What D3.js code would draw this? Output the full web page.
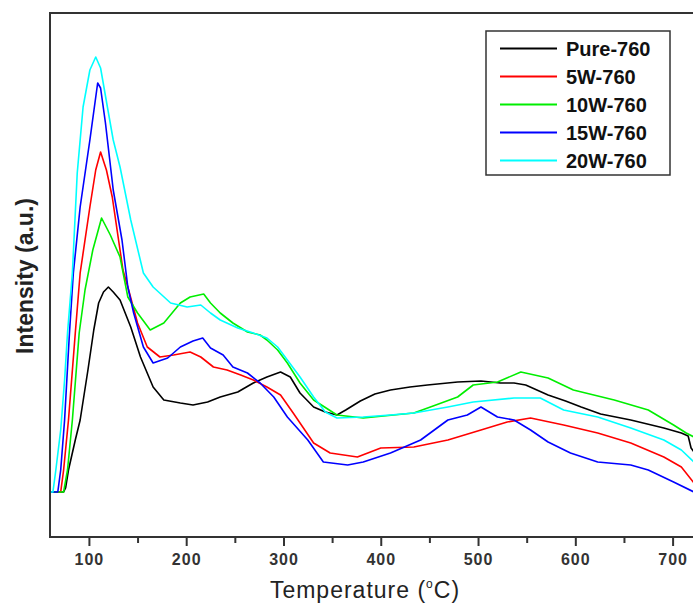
<!DOCTYPE html>
<html>
<head>
<meta charset="utf-8">
<script src="https://cdn.jsdelivr.net/npm/d3@7"></script>
<style>
  html, body { margin: 0; padding: 0; background: #fff; }
  svg { display: block; }
</style>
</head>
<body>
<div id="chart"></div>
<script>
// ---- Data (temperature in °C, intensity in a.u.) ----
const seriesNames = ["Pure-760", "5W-760", "10W-760", "15W-760", "20W-760"];
const seriesColors = ["#000000", "#ff0000", "#00ee00", "#0000ff", "#00ffff"];

const pureT = [60,74,76,79,86,91,99,105,110,115,120,125,132,143,153,166,177,194,207,222,235,253,269,283,297,307,317,331,343,355,364,379,394,410,430,448,479,503,523,537,549,572,590,606,626,657,691,709,716,719,722];
const pureI = [45,45,49,67,97,117,167,207,234,245,250,245,237,210,180,150,137,134,132,135,140,145,154,160,165,160,144,130,125,122,127,136,143,147,150,152,155,156,154,154,152,142,136,130,123,117,109,104,101,89,85];

const w5T = [60,71,74,79,86,91,101,107,112,118,124,135,140,150,160,173,187,204,215,228,242,256,269,283,297,310,331,348,376,400,434,469,503,530,554,588,623,657,691,709,722];
const w5I = [45,45,67,117,204,264,330,367,385,367,340,267,250,214,190,180,182,185,180,170,167,162,157,150,142,124,94,84,80,89,90,97,107,115,119,112,104,94,80,70,54];

const w10T = [60,74,78,83,90,96,104,113,122,132,140,150,163,177,194,204,218,225,235,248,263,276,283,294,304,317,331,355,382,434,451,479,495,520,544,572,598,640,675,701,714,722];
const w10I = [45,45,67,117,204,247,287,319,302,280,240,224,207,214,234,240,243,234,224,214,205,202,197,187,174,154,137,122,119,124,130,140,152,155,165,159,147,137,127,112,104,100];

const w15T = [60,68,71,75,80,84,91,101,109,112,117,125,134,140,146,156,166,181,194,207,217,225,238,248,263,276,290,304,325,341,366,382,410,441,469,489,503,520,537,554,572,595,623,657,675,701,722];
const w15I = [45,45,67,117,204,264,330,397,454,449,414,347,297,250,224,190,174,179,190,196,199,189,182,170,164,154,140,120,97,75,72,75,84,97,117,122,130,120,117,107,95,84,75,72,67,55,45];

const w20T = [60,63,66,71,75,78,83,88,94,101,107,112,119,125,132,143,156,166,184,201,215,225,235,253,269,283,294,304,317,331,343,355,382,410,434,469,495,537,564,588,623,657,691,709,722];
const w20I = [45,45,67,107,157,204,264,364,430,467,480,469,430,397,370,317,264,250,234,230,232,224,217,209,204,199,190,177,160,140,125,119,120,122,124,130,135,139,139,127,120,109,97,87,75];

const seriesT = [pureT, w5T, w10T, w15T, w20T];
const seriesI = [pureI, w5I, w10I, w15I, w20I];

const xMajorTicks = [100, 200, 300, 400, 500, 600, 700];
const xMinorTicks = [150, 250, 350, 450, 550, 650];
const xDomain = [60, 722];
const yDomain = [0, 524];

// ---- Layout ----
const W = 693, H = 606;
const L = 50, R = 694, T = 13, B = 537;

const svg = d3.select("#chart").append("svg")
  .attr("width", W).attr("height", H);

const x = d3.scaleLinear().domain(xDomain).range([L, R]);
const y = d3.scaleLinear().domain(yDomain).range([B, T]);

svg.append("defs").append("clipPath").attr("id", "clip")
  .append("rect").attr("x", L).attr("y", T).attr("width", R - L).attr("height", B - T);

// series lines
const line = d3.line().x(d => x(d[0])).y(d => y(d[1]));
const g = svg.append("g").attr("clip-path", "url(#clip)");
seriesNames.forEach((name, i) => {
  const pts = seriesT[i].map((t, k) => [t, seriesI[i][k]]);
  g.append("path")
    .datum(pts)
    .attr("fill", "none")
    .attr("stroke", seriesColors[i])
    .attr("stroke-width", 1.6)
    .attr("stroke-linejoin", "round")
    .attr("d", line);
});

// frame
svg.append("rect")
  .attr("x", L).attr("y", T).attr("width", R - L).attr("height", B - T)
  .attr("fill", "none").attr("stroke", "#333").attr("stroke-width", 2);

// x axis ticks
const xAxis = d3.axisBottom(x).tickValues(xMajorTicks).tickSize(9).tickPadding(8).tickFormat(d3.format("d"));
const ax = svg.append("g").attr("transform", `translate(0,${B})`).call(xAxis);
ax.select(".domain").remove();
ax.selectAll(".tick line").attr("stroke", "#333").attr("stroke-width", 2);
ax.selectAll(".tick text")
  .attr("fill", "#333")
  .style("font-family", "'Liberation Sans', Arial, sans-serif")
  .style("font-size", "16px")
  .style("font-weight", "bold")
  .style("letter-spacing", "1px");

const axMinor = d3.axisBottom(x).tickValues(xMinorTicks).tickSize(6).tickFormat("");
const am = svg.append("g").attr("transform", `translate(0,${B})`).call(axMinor);
am.select(".domain").remove();
am.selectAll(".tick line").attr("stroke", "#333").attr("stroke-width", 2);

// x title
const xt = svg.append("text")
  .attr("x", 365).attr("y", 598)
  .attr("text-anchor", "middle")
  .attr("fill", "#222")
  .style("font-family", "'Liberation Sans', Arial, sans-serif")
  .style("font-size", "23px")
  .style("letter-spacing", "1px");
xt.append("tspan").text("Temperature (");
xt.append("tspan").attr("dy", -10).style("font-size", "12px").text("o");
xt.append("tspan").attr("dy", 10).text("C)");

// y title
svg.append("text")
  .attr("transform", "translate(33,276) rotate(-90)")
  .attr("text-anchor", "middle")
  .attr("fill", "#222")
  .style("font-family", "'Liberation Sans', Arial, sans-serif")
  .style("font-size", "23px")
  .style("font-weight", "bold")
  .text("Intensity (a.u.)");

// legend
const lg = svg.append("g");
lg.append("rect")
  .attr("x", 486).attr("y", 31).attr("width", 184).attr("height", 144)
  .attr("fill", "#fff").attr("stroke", "#333").attr("stroke-width", 1.5);
seriesNames.forEach((name, i) => {
  const yy = 48.5 + i * 28;
  lg.append("line")
    .attr("x1", 500).attr("x2", 557).attr("y1", yy).attr("y2", yy)
    .attr("stroke", seriesColors[i]).attr("stroke-width", 2);
  lg.append("text")
    .attr("x", 566).attr("y", yy + 7)
    .attr("fill", "#111")
    .style("font-family", "'Liberation Sans', Arial, sans-serif")
    .style("font-size", "20px")
    .style("font-weight", "bold")
    .text(name);
});
</script>
</body>
</html>
